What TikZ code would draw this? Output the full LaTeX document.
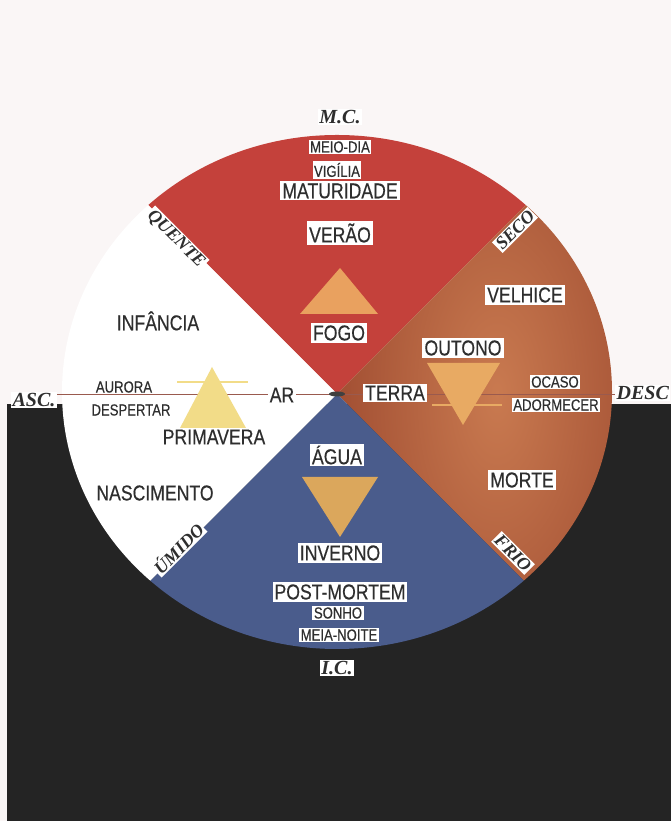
\documentclass[tikz,border=0pt]{standalone}
\usepackage{fontspec}
\usepackage{tikz}
\setmainfont{Liberation Sans}
\newfontfamily\lblfont[FakeStretch=0.82, FakeBold=0.4]{Liberation Sans}
\newfontfamily\astrofont{Liberation Serif}

\definecolor{papel}{HTML}{FAF6F6}
\definecolor{fundo}{HTML}{242424}
\definecolor{fogored}{HTML}{C4413B}
\definecolor{terralight}{HTML}{C97A50}
\definecolor{terradark}{HTML}{A24F33}
\definecolor{aguablue}{HTML}{4A5C8C}
\definecolor{trifogo}{HTML}{E9A15F}
\definecolor{triar}{HTML}{F2DC88}
\definecolor{triterra}{HTML}{E8AA63}
\definecolor{triagua}{HTML}{DBA75C}
\definecolor{labelgray}{HTML}{2E2E2E}
\definecolor{eixo}{HTML}{9A5A4E}

\begin{document}
\begin{tikzpicture}[x=1pt, y=1pt,
        every node/.style = {fill=white, inner sep=2pt, text=labelgray},
        bigtxt/.style = {font=\lblfont\fontsize{21.5}{23}\selectfont},
        smalltxt/.style = {font=\lblfont\fontsize{16}{18}\selectfont, inner sep=1.5pt},
        astro/.style = {font=\astrofont\bfseries\itshape\fontsize{20}{22}\selectfont, inner sep=1.5pt},
        quality/.style = {font=\astrofont\bfseries\itshape\fontsize{18}{20}\selectfont, inner sep=1.5pt}]
    \useasboundingbox (0,0) rectangle (671,821);
    % background
    \fill[papel] (0,0) rectangle (671,821);
    \fill[fundo] (7,0) rectangle (671,417);
    \coordinate (c) at (337,427);
    % the wheel
    \begin{scope}
        \clip (337,429) ellipse [x radius=275, y radius=257];
        \fill[fogored] (c) -- ++(-320,320) -- ++(640,0) -- cycle;
        \shade[inner color=terralight, outer color=terradark] (c) -- ++(320,320) -- ++(0,-640) -- cycle;
        \fill[aguablue] (c) -- ++(-320,-320) -- ++(640,0) -- cycle;
        \fill[white] (c) -- ++(-320,320) -- ++(0,-640) -- cycle;
    \end{scope}
    % axis
    \node[astro] (asc) at (34,421) {ASC.};
    \node[astro, anchor=west] (desc) at (615,428) {DESC};
    \draw[eixo, line width=0.8pt] (asc.east |- c) -- (desc.west |- c);
    \fill[black!75] (c) ellipse [x radius=8, y radius=2.5];
    % elements
    \fill[trifogo] (340,553) -- (300,507) -- (378,507) -- cycle;
    \fill[triar] (212,454) -- (180,393) -- (246,393) -- cycle;
    \draw[triar, line width=2pt] (177,439) -- (248,439);
    \fill[triterra] (427,458) -- (500,458) -- (463,396) -- cycle;
    \draw[triterra, line width=2pt] (432,416) -- (502,416);
    \fill[triagua] (302,344) -- (378,344) -- (340,284) -- cycle;

    \node[astro] (mc) at (340,704) {M.C.};
    \node[astro] (ic) at (337,153) {I.C.};
    \node[quality, rotate=-45] (quente) at (176,582) {QUENTE};
    \node[quality, rotate=45] (seco) at (515,591) {SECO};
    \node[quality, rotate=45] (umido) at (178,273) {ÚMIDO};
    \node[quality, rotate=-45] (frio) at (513,268) {FRIO};

    \node[smalltxt] (meiodia) at (340,674) {MEIO-DIA};
    \node[smalltxt] (vigilia) at (337,651) {VIGÍLIA};
    \node[bigtxt] (maturidade) at (340,630) {MATURIDADE};
    \node[bigtxt] (verao) at (340,588) {VERÃO};
    \node[bigtxt] (fogo) at (339,488) {FOGO};

    \node[bigtxt] (velhice) at (525,526) {VELHICE};
    \node[bigtxt] (outono) at (463,473) {OUTONO};
    \node[bigtxt] (terra) at (395,428) {TERRA};
    \node[smalltxt] (ocaso) at (555,439) {OCASO};
    \node[smalltxt] (adormecer) at (556,416) {ADORMECER};
    \node[bigtxt] (morte) at (522,341) {MORTE};

    \node[bigtxt] (agua) at (337,366) {ÁGUA};
    \node[bigtxt] (inverno) at (340,268) {INVERNO};
    \node[bigtxt] (postmortem) at (340,229) {POST-MORTEM};
    \node[smalltxt] (sonho) at (338,208) {SONHO};
    \node[smalltxt] (meianoite) at (339,186) {MEIA-NOITE};

    \node[bigtxt] (infancia) at (158,500) {INFÂNCIA};
    \node[smalltxt] (aurora) at (124,434) {AURORA};
    \node[smalltxt] (despertar) at (131,411) {DESPERTAR};
    \node[bigtxt] (ar) at (282,426) {AR};
    \node[bigtxt] (primavera) at (214,384) {PRIMAVERA};
    \node[bigtxt] (nascimento) at (155,328) {NASCIMENTO};
\end{tikzpicture}
\end{document}
